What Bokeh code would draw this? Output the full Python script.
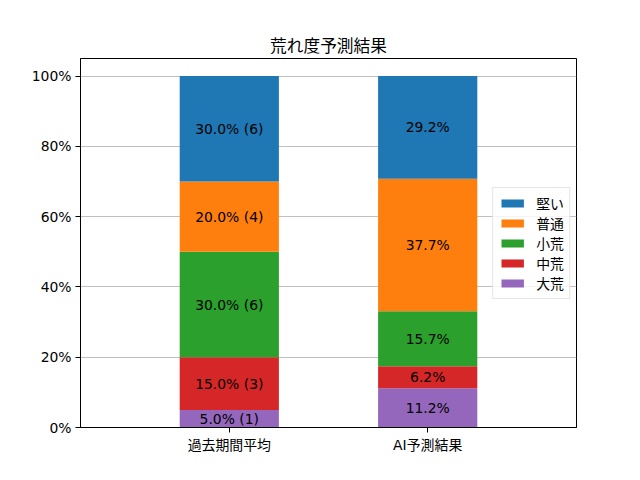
from bokeh.plotting import figure
from bokeh.models import Range1d, FixedTicker, Legend, LegendItem, ColumnDataSource
from bokeh.core.properties import value
from bokeh.embed import file_html
from bokeh.resources import INLINE

FONT = "DejaVu Sans, Noto Sans CJK JP"

categories = ["過去期間平均", "AI予測結果"]
levels = ["大荒", "中荒", "小荒", "普通", "堅い"]   # bottom to top
colors = ["#9467bd", "#d62728", "#2ca02c", "#ff7f0e", "#1f77b4"]
past_pct = [5.0, 15.0, 30.0, 20.0, 30.0]
past_counts = [1, 3, 6, 4, 6]
ai_pct = [11.2, 6.2, 15.7, 37.7, 29.2]
y_ticks = [0, 20, 40, 60, 80, 100]
y_tick_labels = ["0%", "20%", "40%", "60%", "80%", "100%"]

xs = list(range(len(categories)))
data = {"x": xs}
for i, lv in enumerate(levels):
    data[lv] = [past_pct[i], ai_pct[i]]
src = ColumnDataSource(data)

p = figure(width=624, height=464, output_backend="svg", toolbar_location=None,
           x_range=Range1d(-0.75, 1.75), y_range=Range1d(0, 105),
           min_border_left=80, min_border_right=48, min_border_top=58, min_border_bottom=37,
           frame_width=496, frame_height=369,
           title="荒れ度予測結果")
p.title.align = "center"
p.title.text_font = FONT
p.title.text_font_size = "16.7px"
p.title.text_font_style = "normal"
p.title.text_color = "black"
p.title.standoff = 5

p.ygrid.grid_line_color = "#b0b0b0"
p.ygrid.grid_line_width = 0.8
p.ygrid.ticker = FixedTicker(ticks=y_ticks)
p.xgrid.visible = False
p.outline_line_color = "black"
p.outline_line_alpha = 1
p.outline_line_width = 1

renderers = p.vbar_stack(levels, x="x", width=0.5, color=colors, source=src, line_width=0)

# labels
lx, ly, lt = [], [], []
for ci, (pcts, with_counts) in enumerate([(past_pct, True), (ai_pct, False)]):
    cum = 0.0
    for i, v in enumerate(pcts):
        lx.append(xs[ci])
        ly.append(cum + v / 2)
        if with_counts:
            lt.append(f"{v:.1f}% ({past_counts[i]})")
        else:
            lt.append(f"{v:.1f}%")
        cum += v
p.text(x=lx, y=ly, text=lt, text_align="center", text_baseline="middle",
       text_font=value(FONT), text_font_size="13.9px", text_color="black")

for ax in (p.xaxis[0], p.yaxis[0]):
    ax.axis_line_color = "black"
    ax.major_tick_line_color = "black"
    ax.major_tick_out = 5
    ax.major_tick_in = 0
    ax.minor_tick_line_color = None
    ax.major_label_text_font = FONT
    ax.major_label_text_font_size = "13.9px"
    ax.major_label_text_color = "black"
    ax.major_label_standoff = 4

p.xaxis.ticker = FixedTicker(ticks=xs)
p.xaxis.major_label_overrides = {x: c for x, c in zip(xs, categories)}
p.yaxis.ticker = FixedTicker(ticks=y_ticks)
p.yaxis.major_label_overrides = {t: l for t, l in zip(y_ticks, y_tick_labels)}

items = [LegendItem(label=levels[i], renderers=[renderers[i]]) for i in reversed(range(len(levels)))]
legend = Legend(items=items, location="right")
legend.label_text_font = FONT
legend.label_text_font_size = "13.9px"
legend.label_text_color = "black"
legend.glyph_width = 28
legend.glyph_height = 10
legend.label_height = 14
legend.spacing = 0
legend.padding = 5
legend.margin = 6
legend.label_standoff = 10
legend.border_line_color = "#cccccc"
legend.background_fill_alpha = 0.8
p.add_layout(legend, "center")

open("out.html", "w").write(file_html(p, INLINE))
